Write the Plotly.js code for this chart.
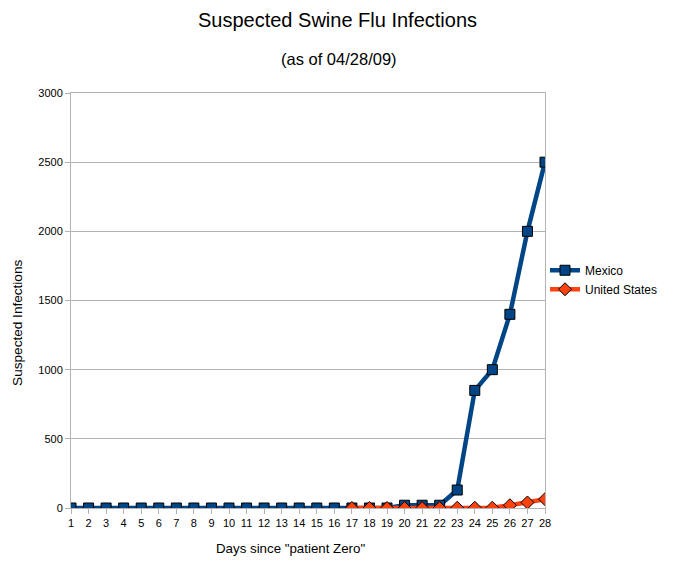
<!DOCTYPE html>
<html><head><meta charset="utf-8">
<script src="https://cdn.plot.ly/plotly-3.0.1.min.js"></script>
<style>body{margin:0;background:#fff}#c{width:675px;height:578px}</style>
</head><body><div id="c"></div>
<script>
const days = [1,2,3,4,5,6,7,8,9,10,11,12,13,14,15,16,17,18,19,20,21,22,23,24,25,26,27,28];
const mexico = [0,0,0,0,0,0,0,0,0,0,0,0,0,0,0,0,0,0,0,20,20,20,130,850,1000,1400,2000,2500];
const unitedStates = [null,null,null,null,null,null,null,null,null,null,null,null,null,null,null,null,0,0,0,0,0,0,2,2,2,20,40,64];
const yTicks = [0,500,1000,1500,2000,2500,3000];

const font = {family:'Liberation Sans, Arial, sans-serif', color:'#000'};
const traces = [
  {x:days, y:mexico, name:'Mexico', type:'scatter', mode:'lines+markers',
   line:{color:'#004586', width:4.5},
   marker:{symbol:'square', size:10, color:'#004586', line:{color:'#000', width:1}}},
  {x:days, y:unitedStates, name:'United States', type:'scatter', mode:'lines+markers',
   line:{color:'#ff420e', width:4.5},
   marker:{symbol:'diamond', size:10, color:'#ff420e', line:{color:'#000', width:1}}}
];
const layout = {
  width:675, height:578,
  margin:{l:71, r:130, t:93, b:70, autoexpand:false},
  paper_bgcolor:'#fff', plot_bgcolor:'#fff',
  font:Object.assign({size:11}, font),
  title:{text:'Suspected Swine Flu Infections', x:0.5, xref:'container', xanchor:'center', y:0.965, yanchor:'middle',
         font:Object.assign({}, font, {size:20})},
  annotations:[
    {text:'(as of 04/28/09)', xref:'paper', yref:'paper', x:0.565, y:1, yshift:45,
     showarrow:false, font:Object.assign({}, font, {size:16.5})},
    {text:'Days since "patient Zero"', xref:'paper', yref:'paper', x:0.464, y:0, yshift:-40,
     yanchor:'middle', showarrow:false, font:Object.assign({}, font, {size:13.3})},
    {text:'Suspected Infections', xref:'paper', yref:'paper', x:0, xshift:-53, y:0.446,
     textangle:-90, xanchor:'center', yanchor:'middle', showarrow:false, font:Object.assign({}, font, {size:13.6})}
  ],
  xaxis:{range:[1,28], tickvals:days, ticktext:days.map(String), showgrid:false,
    showline:true, linecolor:'#b3b3b3', mirror:true, ticks:'outside', ticklen:5, tickcolor:'#b3b3b3',
    zeroline:false, tickfont:{size:11}},
  yaxis:{range:[0,3000], tickvals:yTicks, ticktext:yTicks.map(String), showgrid:true, gridcolor:'#b3b3b3',
    showline:true, linecolor:'#b3b3b3', mirror:true, ticks:'outside', ticklen:5, tickcolor:'#b3b3b3',
    zeroline:false, tickfont:{size:11}},
  legend:{x:1.0, y:0.55, xanchor:'left', yanchor:'middle', font:{size:12}, tracegroupgap:0, itemwidth:30,
    bgcolor:'rgba(0,0,0,0)'},
  showlegend:true
};
Plotly.newPlot('c', traces, layout, {displayModeBar:false, staticPlot:true});
</script></body></html>
